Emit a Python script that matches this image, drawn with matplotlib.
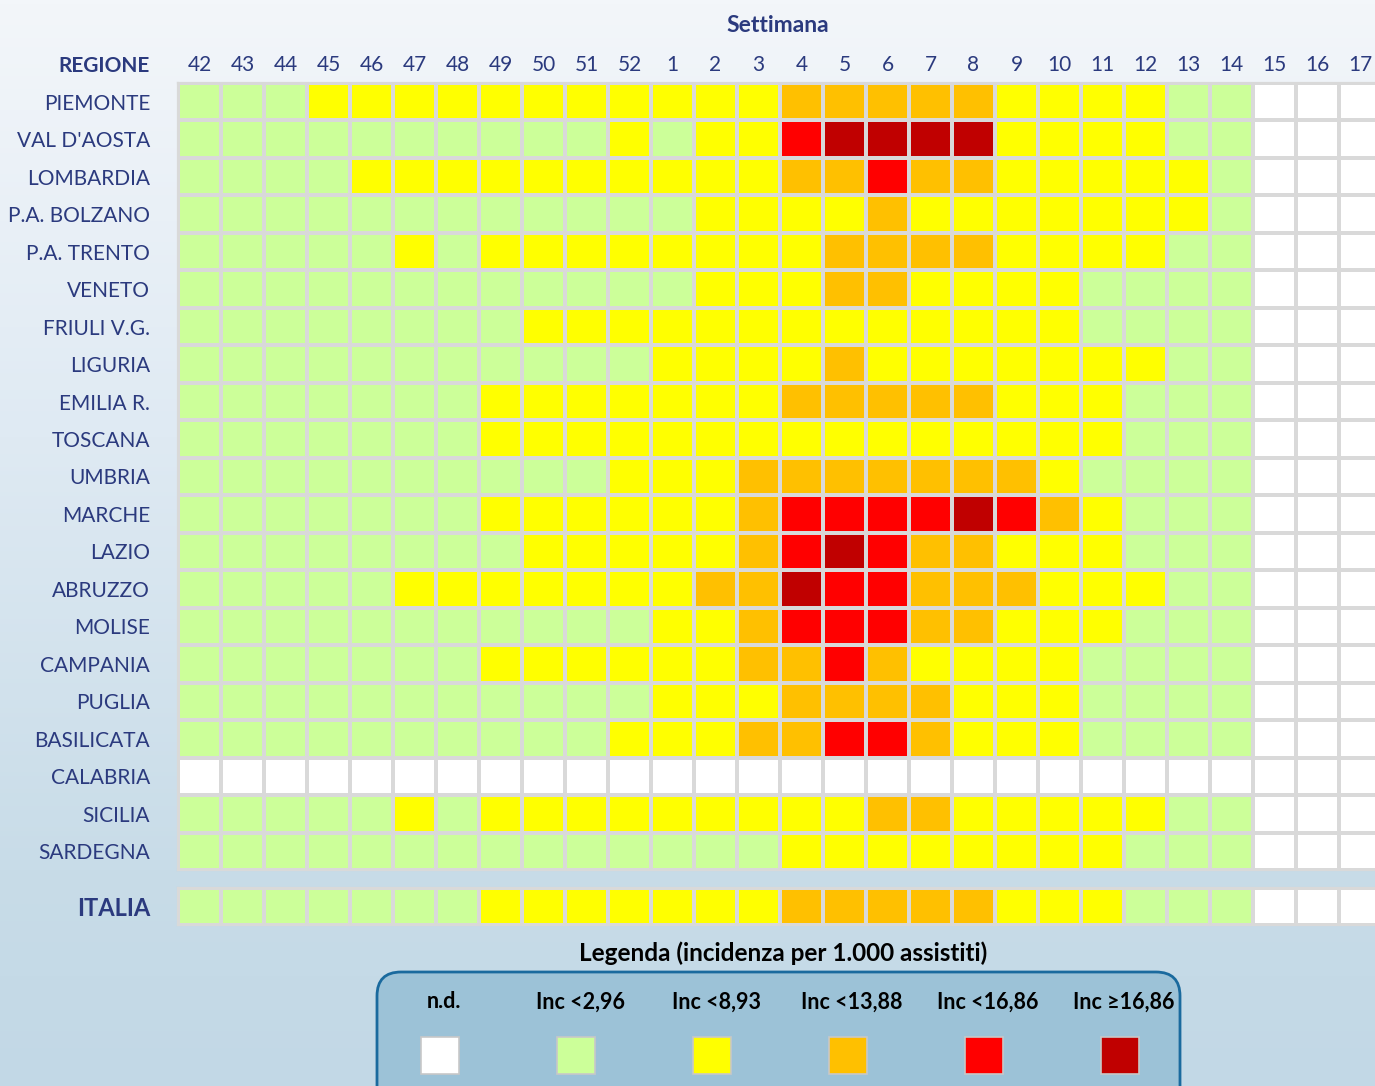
import numpy as np
import matplotlib.pyplot as plt
from matplotlib.colors import ListedColormap, BoundaryNorm, LinearSegmentedColormap
from matplotlib.patches import FancyBboxPatch

plt.rcParams['font.family'] = ['Lato', 'DejaVu Sans']

# --- dati ---
settimane = ['42', '43', '44', '45', '46', '47', '48', '49', '50', '51', '52',
             '1', '2', '3', '4', '5', '6', '7', '8', '9', '10', '11', '12', '13', '14',
             '15', '16', '17']

regioni = ['PIEMONTE', "VAL D'AOSTA", 'LOMBARDIA', 'P.A. BOLZANO', 'P.A. TRENTO',
           'VENETO', 'FRIULI V.G.', 'LIGURIA', 'EMILIA R.', 'TOSCANA', 'UMBRIA',
           'MARCHE', 'LAZIO', 'ABRUZZO', 'MOLISE', 'CAMPANIA', 'PUGLIA',
           'BASILICATA', 'CALABRIA', 'SICILIA', 'SARDEGNA']

# livelli per settimana: sett. 42-52 | sett. 1-14 | sett. 15-17
# W=n.d., G<2,96, Y<8,93, O<13,88, R<16,86, D>=16,86
livelli_regioni = [
    'GGGYYYYYYYY YYYOOOOOYYYYGG WWW',  # PIEMONTE
    'GGGGGGGGGGY GYYRDDDDYYYYGG WWW',  # VAL D'AOSTA
    'GGGGYYYYYYY YYYOOROOYYYYYG WWW',  # LOMBARDIA
    'GGGGGGGGGGG GYYYYOYYYYYYYG WWW',  # P.A. BOLZANO
    'GGGGGYGYYYY YYYYOOOOYYYYGG WWW',  # P.A. TRENTO
    'GGGGGGGGGGG GYYYOOYYYYGGGG WWW',  # VENETO
    'GGGGGGGGYYY YYYYYYYYYYGGGG WWW',  # FRIULI V.G.
    'GGGGGGGGGGG YYYYOYYYYYYYGG WWW',  # LIGURIA
    'GGGGGGGYYYY YYYOOOOOYYYGGG WWW',  # EMILIA R.
    'GGGGGGGYYYY YYYYYYYYYYYGGG WWW',  # TOSCANA
    'GGGGGGGGGGY YYOOOOOOOYGGGG WWW',  # UMBRIA
    'GGGGGGGYYYY YYORRRRDROYGGG WWW',  # MARCHE
    'GGGGGGGGYYY YYORDROOYYYGGG WWW',  # LAZIO
    'GGGGGYYYYYY YOODRROOOYYYGG WWW',  # ABRUZZO
    'GGGGGGGGGGG YYORRROOYYYGGG WWW',  # MOLISE
    'GGGGGGGYYYY YYOOROYYYYGGGG WWW',  # CAMPANIA
    'GGGGGGGGGGG YYYOOOOYYYGGGG WWW',  # PUGLIA
    'GGGGGGGGGGY YYOORROYYYGGGG WWW',  # BASILICATA
    'WWWWWWWWWWW WWWWWWWWWWWWWW WWW',  # CALABRIA
    'GGGGGYGYYYY YYYYYOOYYYYYGG WWW',  # SICILIA
    'GGGGGGGGGGG GGGYYYYYYYYGGG WWW',  # SARDEGNA
]
livelli_italia = 'GGGGGGGYYYY YYYOOOOOYYYGGG WWW'

legenda_etichette = ['n.d.', 'Inc <2,96', 'Inc <8,93', 'Inc <13,88', 'Inc <16,86', 'Inc \u226516,86']
legenda_colori = ['#FFFFFF', '#CCFF99', '#FFFF00', '#FFC000', '#FF0000', '#C00000']
codici = {'W': 0, 'G': 1, 'Y': 2, 'O': 3, 'R': 4, 'D': 5}


def to_row(s):
    row = [codici[c] for c in s.replace(' ', '')]
    if len(row) != len(settimane):
        raise ValueError(f"bad row length {len(row)}: {s}")
    return row


griglia = np.array([to_row(s) for s in livelli_regioni])
italia = np.array([to_row(livelli_italia)])

cmap = ListedColormap(legenda_colori)
norm = BoundaryNorm(np.arange(-0.5, 6.5, 1), cmap.N)

W, H = 1375, 1086
fig = plt.figure(figsize=(W / 100, H / 100), dpi=100)

# sfondo sfumato
bg = fig.add_axes([0, 0, 1, 1])
grad = np.linspace(0, 1, 256).reshape(-1, 1)
bg_cmap = LinearSegmentedColormap.from_list(
    'bg', [(0, '#F3F6FA'), (0.4, '#DFEAF3'), (0.8, '#C8DCE8'), (1, '#C2D8E6')])
bg.imshow(grad, aspect='auto', cmap=bg_cmap, extent=[0, 1, 0, 1], origin='upper')
bg.set_axis_off()

navy = '#2B3A7E'
edge = '#D9D9D9'
cell_w = 43 / W
left = 178 / W

# griglia regioni
ax = fig.add_axes([left, (H - 870) / H, cell_w * len(settimane), 787 / H])
ax.pcolormesh(np.arange(len(settimane) + 1), np.arange(len(regioni) + 1), griglia,
              cmap=cmap, norm=norm, edgecolors=edge, linewidth=1.6)
ax.set_xlim(0, len(settimane))
ax.set_ylim(len(regioni), 0)
ax.xaxis.tick_top()
ax.set_xticks(np.arange(len(settimane)) + 0.5, settimane)
ax.set_yticks(np.arange(len(regioni)) + 0.5, regioni)
ax.tick_params(length=0, colors=navy, labelsize=15)
ax.tick_params(axis='x', pad=6)
ax.tick_params(axis='y', pad=20)
for s in ax.spines.values():
    s.set_color(edge)
    s.set_linewidth(1.6)

# riga ITALIA
ax2 = fig.add_axes([left, (H - 925) / H, cell_w * len(settimane), 37.5 / H])
ax2.pcolormesh(np.arange(len(settimane) + 1), [0, 1], italia,
               cmap=cmap, norm=norm, edgecolors=edge, linewidth=1.6)
ax2.set_xlim(0, len(settimane))
ax2.set_ylim(1, 0)
ax2.set_xticks([])
ax2.set_yticks([0.5], ['ITALIA'])
ax2.tick_params(length=0, colors=navy, labelsize=17, pad=20)
for lbl in ax2.get_yticklabels():
    lbl.set_fontweight('bold')
for s in ax2.spines.values():
    s.set_color(edge)
    s.set_linewidth(1.6)

fig.text(778 / W, 1 - 25 / H, 'Settimana', ha='center', va='center',
         fontsize=16.5, fontweight='bold', color=navy)
fig.text(150 / W, 1 - 66 / H, 'REGIONE', ha='right', va='center',
         fontsize=15, fontweight='bold', color=navy)

# legenda
fig.text(783 / W, 1 - 953 / H, 'Legenda (incidenza per 1.000 assistiti)', ha='center',
         va='center', fontsize=17.5, fontweight='bold', color='black')

lg = fig.add_axes([377 / W, 0, 803 / W, (H - 972) / H])
lg.set_axis_off()
box = FancyBboxPatch((0.0, -0.3), 1.0, 1.3, boxstyle='round,pad=0,rounding_size=0.03',
                     transform=lg.transAxes, facecolor='#9CC2D7', edgecolor='#1A6A9E',
                     linewidth=2, clip_on=False, mutation_aspect=7)
lg.add_patch(box)
idx = np.arange(len(legenda_etichette))
lg.bar(idx, 0.325, bottom=0.105, width=0.28, color=legenda_colori,
       edgecolor='#C8C8C8', linewidth=1.2)
for i, lab in zip(idx, legenda_etichette):
    lg.text(i + 0.03, 0.737, lab, ha='center', va='center', fontsize=15.5,
            fontweight='bold', color='black')
lg.set_xlim(-0.463, 5.44)
lg.set_ylim(0, 1)

fig.savefig('out.png', dpi=100)
